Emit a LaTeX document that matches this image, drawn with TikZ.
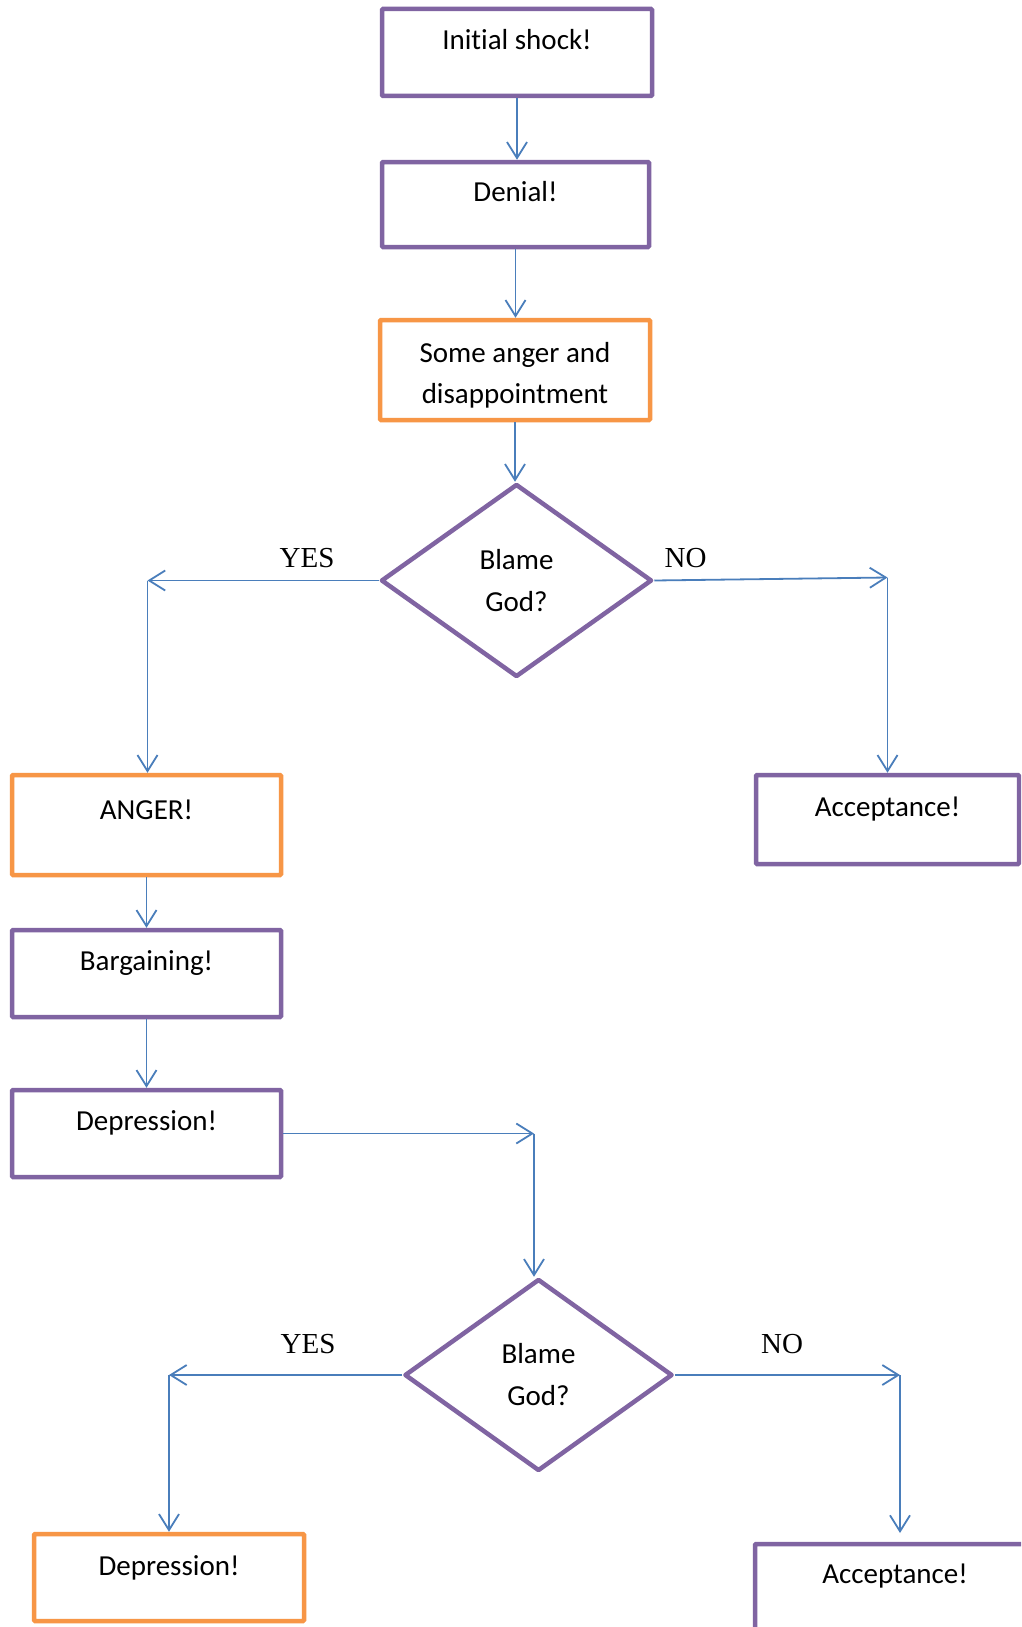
\documentclass[tikz,border=0pt]{standalone}
\usepackage{fontspec}
\setmainfont{Carlito}[Ligatures={NoCommon}]
\newfontfamily\yesnofont{Liberation Serif}
\usetikzlibrary{shapes.geometric,arrows.meta}
\definecolor{purp}{HTML}{8064A2}
\definecolor{orng}{HTML}{F79646}
\definecolor{conn}{HTML}{4A7EBB}
\tikzset{
  box/.style={draw=purp, line width=4.5pt, rounded corners=1pt, inner xsep=0pt, inner ysep=0pt,
    font=\fontsize{29}{41}\selectfont, align=center},
  obox/.style={box, draw=orng},
  decision/.style={diamond, draw=purp, line width=4.5pt, line join=round, inner sep=0pt,
    font=\fontsize{29}{42}\selectfont, align=center},
  lbl/.style={font=\yesnofont\fontsize{29}{34}\selectfont, anchor=base, inner sep=0pt},
  link/.style={draw=conn, line width=1.8pt, -{Straight Barb[length=16pt,width=20pt,line width=1.8pt]}}
}
\begin{document}
\begin{tikzpicture}[x=1pt,y=-1pt]
\useasboundingbox (0,0) rectangle (1021,1627);
\clip (0,0) rectangle (1021,1627);
\fill[white] (0,0) rectangle (1021,1627);

\node[box, minimum width=270pt, text height=41pt, text depth=46pt] (n1) at (517,52.5) {Initial shock!};
\node[box, minimum width=267pt, text height=39pt, text depth=46pt] (n2) at (515.5,204.5) {Denial!};
\node[obox, minimum width=270pt, text height=83pt, text depth=17pt] (n3) at (515,370) {Some anger and\\disappointment};
\node[decision, minimum width=271pt, minimum height=193pt] (d1) at (516.5,580.5) {Blame\\God?};
\node[obox, minimum width=269pt, text height=44pt, text depth=56pt] (n5) at (146.5,825) {ANGER!};
\node[box, minimum width=269pt, text height=40pt, text depth=47pt] (n6) at (146.5,973.5) {Bargaining!};
\node[box, minimum width=269pt, text height=40pt, text depth=47pt] (n7) at (146.5,1133.5) {Depression!};
\node[decision, minimum width=268pt, minimum height=192pt] (d2) at (538.5,1375) {Blame\\God?};
\node[obox, minimum width=270pt, text height=41pt, text depth=46pt] (n8) at (169,1577.5) {Depression!};
\node[box, minimum width=263pt, text height=41pt, text depth=48pt] (n9) at (887.5,819.5) {Acceptance!};
\node[box, minimum width=280pt, text height=39pt, text depth=49pt] (n10) at (895,1588) {Acceptance!};

\node[lbl] (yes1) at (307,567) {YES};
\node[lbl] (no1) at (685.5,567) {NO};
\node[lbl] (yes2) at (308,1353) {YES};
\node[lbl] (no2) at (782,1353) {NO};

\coordinate (c1) at (147.5,580.5);
\coordinate (c2) at (887.5,577.5);
\coordinate (c3) at (534,1133.5);
\coordinate (c4) at (169,1375);
\coordinate (c5) at (900,1375);
\coordinate (c6) at (900,1533);

\draw[link] (n1.south) -- (n1.south |- n2.north);
\draw[link] (n2.south) -- (n2.south |- n3.north);
\draw[link] (n3.south) -- (n3.south |- d1.north);
\draw[link] (d1.west) -- (c1);
\draw[link] (c1) -- (c1 |- n5.north);
\draw[link] (d1.east) -- (c2);
\draw[link] (c2) -- (c2 |- n9.north);
\draw[link] (n5.south) -- (n5.south |- n6.north);
\draw[link] (n6.south) -- (n6.south |- n7.north);
\draw[link] (n7.east) -- (c3);
\draw[link] (c3) -- (c3 |- d2.north);
\draw[link] (d2.west) -- (c4);
\draw[link] (c4) -- (c4 |- n8.north);
\draw[link] (d2.east) -- (c5);
\draw[link] (c5) -- (c6);
\end{tikzpicture}
\end{document}
